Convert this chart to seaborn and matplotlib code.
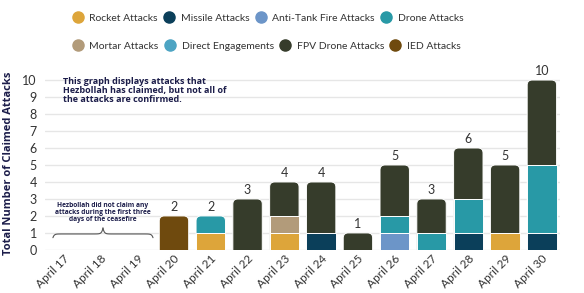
import matplotlib.pyplot as plt
import seaborn as sns
import pandas as pd
import numpy as np
from matplotlib.lines import Line2D
from matplotlib.patches import FancyBboxPatch

dates = ['April 17', 'April 18', 'April 19', 'April 20', 'April 21', 'April 22', 'April 23',
         'April 24', 'April 25', 'April 26', 'April 27', 'April 28', 'April 29', 'April 30']

# stacking order, bottom to top
categories = ['Rocket Attacks', 'Missile Attacks', 'Anti-Tank Fire Attacks', 'Mortar Attacks',
              'Drone Attacks', 'Direct Engagements', 'FPV Drone Attacks', 'IED Attacks']
rocket = [0, 0, 0, 0, 1, 0, 1, 0, 0, 0, 0, 0, 1, 0]
missile = [0, 0, 0, 0, 0, 0, 0, 1, 0, 0, 0, 1, 0, 1]
anti_tank = [0, 0, 0, 0, 0, 0, 0, 0, 0, 1, 0, 0, 0, 0]
mortar = [0, 0, 0, 0, 0, 0, 1, 0, 0, 0, 0, 0, 0, 0]
drone = [0, 0, 0, 0, 1, 0, 0, 0, 0, 1, 1, 2, 0, 4]
direct = [0, 0, 0, 0, 0, 0, 0, 0, 0, 0, 0, 0, 0, 0]
fpv = [0, 0, 0, 0, 0, 3, 2, 3, 1, 3, 2, 3, 4, 5]
ied = [0, 0, 0, 2, 0, 0, 0, 0, 0, 0, 0, 0, 0, 0]

colors = ['#DDA53A', '#0B3F5A', '#6C95C8', '#B29B7A', '#2899A6', '#4DA4C3', '#363C2B', '#6F4A0E']

legend_row1 = ['Rocket Attacks', 'Missile Attacks', 'Anti-Tank Fire Attacks', 'Drone Attacks']
legend_row2 = ['Mortar Attacks', 'Direct Engagements', 'FPV Drone Attacks', 'IED Attacks']

navy = '#1c1d4a'
txt = '#333333'

df = pd.DataFrame(dict(zip(categories, [rocket, missile, anti_tank, mortar, drone, direct, fpv, ied])),
                  index=dates)
cum = df.cumsum(axis=1)
total = df.sum(axis=1)

sns.set_style('white')
plt.rcParams['font.family'] = ['Lato', 'DejaVu Sans']

fig = plt.figure(figsize=(5.84, 2.93), dpi=100)
ax = fig.add_axes([0.0774, 0.147, 0.882, 0.5885])

# draw cumulative layers from the top one down so the lower ones sit on top
for k in range(len(categories) - 1, -1, -1):
    sns.barplot(x=dates, y=cum[categories[k]].values, color=colors[k], width=0.8,
                saturation=1, edgecolor='white', linewidth=0.7, order=dates, ax=ax)

# round the top of each stack
px_x = ax.get_position().width * 584 / 14.0
px_y = ax.get_position().height * 293 / 10.15
r = 5.0 / px_x
for j, cont in enumerate(ax.containers):
    k = len(categories) - 1 - j
    for i, p in enumerate(cont.patches):
        h = cum[categories[k]].iloc[i]
        if total.iloc[i] == 0:
            continue
        if h == total.iloc[i]:
            lower = cum[categories[k - 1]].iloc[i] if k > 0 else 0
            p.set_visible(False)
            if lower < h:
                fb = FancyBboxPatch((p.get_x(), -1), p.get_width(), h + 1,
                                    boxstyle=f'round,pad=0,rounding_size={r}',
                                    mutation_aspect=px_x / px_y,
                                    facecolor=colors[k], edgecolor='white', linewidth=0.7,
                                    zorder=0.9)
                ax.add_patch(fb)

for i, t in enumerate(total):
    if t > 0:
        ax.text(i, t + 0.2, str(t), ha='center', va='bottom', fontsize=9, color=txt)

ax.set_xlim(-0.5, 13.5)
ax.set_ylim(0, 10.15)
ax.set_yticks(range(0, 11))
ax.yaxis.grid(True, color='#e6e6e6', linewidth=1)
ax.set_axisbelow(True)
sns.despine(ax=ax, left=True, bottom=True)
ax.tick_params(axis='y', labelsize=9, colors=txt, length=0, pad=6)
ax.tick_params(axis='x', labelsize=8.5, colors=txt, length=0, pad=2)
plt.setp(ax.get_xticklabels(), rotation=45, ha='right', rotation_mode='anchor')
ax.set_xlabel('')
ax.set_ylabel('Total Number of Claimed Attacks', fontsize=8, fontweight='bold', color=navy,
              family=['Open Sans', 'DejaVu Sans'], labelpad=6)

ax.text(-0.02, 10.2, 'This graph displays attacks that\nHezbollah has claimed, but not all of\nthe attacks are confirmed.',
        ha='left', va='top', fontsize=6.5, fontweight='bold', color=navy,
        family=['Open Sans', 'DejaVu Sans'], linespacing=1.0)
ax.text(1.07, 2.2, 'Hezbollah did not claim any\nattacks during the first three\ndays of the ceasefire',
        ha='center', va='center', fontsize=4.8, fontweight='bold', color=navy,
        family=['Open Sans', 'DejaVu Sans'], linespacing=1.05)

# curly brace under the empty days
x0, x1, yb = -0.29, 2.43, 0.94
xm = (x0 + x1) / 2
s = np.linspace(0, 1, 120)
hook = -0.22 * np.exp(-s * 40)
tip = 0.35 * np.exp(-(1 - s) * 40)
for xs in (x0 + (xm - x0) * s, x1 - (x1 - xm) * s):
    ax.plot(xs, yb + hook + tip, color='#555555', lw=0.8, clip_on=False)

h1 = [Line2D([], [], marker='o', ls='', markersize=8, color=colors[categories.index(c)]) for c in legend_row1]
h2 = [Line2D([], [], marker='o', ls='', markersize=8, color=colors[categories.index(c)]) for c in legend_row2]
leg_kw = dict(ncol=4, frameon=False, fontsize=7.5, handlelength=0.6, handletextpad=0.8,
              columnspacing=0.8, loc='center left', borderaxespad=0, borderpad=0)
l1 = fig.legend(h1, legend_row1, bbox_to_anchor=(0.128, 1 - 18 / 293), **leg_kw)
l2 = fig.legend(h2, legend_row2, bbox_to_anchor=(0.128, 1 - 46 / 293), **leg_kw)
for l in (l1, l2):
    for t in l.get_texts():
        t.set_color(txt)

fig.savefig('out.png', dpi=100)
